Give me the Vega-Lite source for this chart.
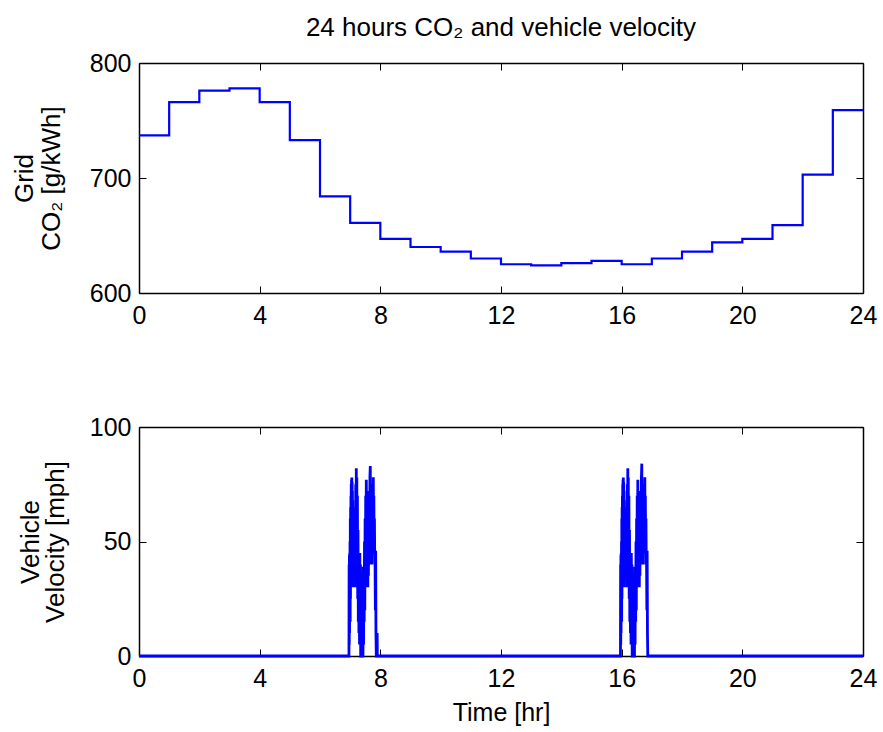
{
  "$schema": "https://vega.github.io/schema/vega-lite/v6.json",
  "background": "white",
  "padding": {"left": 11, "top": 15, "right": 5, "bottom": 5},
  "datasets": {
    "co2": [
      {"t": 0, "g": 737}, {"t": 1, "g": 766}, {"t": 2, "g": 776}, {"t": 3, "g": 778},
      {"t": 4, "g": 766}, {"t": 5, "g": 733}, {"t": 6, "g": 684}, {"t": 7, "g": 661},
      {"t": 8, "g": 647}, {"t": 9, "g": 640}, {"t": 10, "g": 636}, {"t": 11, "g": 630},
      {"t": 12, "g": 625}, {"t": 13, "g": 624}, {"t": 14, "g": 626}, {"t": 15, "g": 628},
      {"t": 16, "g": 625}, {"t": 17, "g": 630}, {"t": 18, "g": 636}, {"t": 19, "g": 644},
      {"t": 20, "g": 647}, {"t": 21, "g": 659}, {"t": 22, "g": 703}, {"t": 23, "g": 759},
      {"t": 24, "g": 759}
    ],
    "vel": [
      {"t": 0, "v": 0},
      {"t": 6.960, "v": 0}, {"t": 6.965, "v": 40}, {"t": 6.970, "v": 5}, {"t": 6.975, "v": 44}, {"t": 6.980, "v": 10}, {"t": 6.985, "v": 45}, {"t": 6.990, "v": 20}, {"t": 6.995, "v": 50}, {"t": 7.000, "v": 15}, {"t": 7.005, "v": 60}, {"t": 7.010, "v": 25}, {"t": 7.015, "v": 65}, {"t": 7.020, "v": 30}, {"t": 7.025, "v": 70}, {"t": 7.030, "v": 35}, {"t": 7.035, "v": 75}, {"t": 7.040, "v": 40}, {"t": 7.045, "v": 77}, {"t": 7.050, "v": 45}, {"t": 7.055, "v": 78}, {"t": 7.060, "v": 50}, {"t": 7.065, "v": 76}, {"t": 7.070, "v": 40}, {"t": 7.075, "v": 72}, {"t": 7.080, "v": 30}, {"t": 7.085, "v": 68}, {"t": 7.090, "v": 35}, {"t": 7.095, "v": 60}, {"t": 7.100, "v": 35}, {"t": 7.110, "v": 45}, {"t": 7.120, "v": 34}, {"t": 7.127, "v": 36}, {"t": 7.135, "v": 35}, {"t": 7.145, "v": 50}, {"t": 7.155, "v": 36}, {"t": 7.165, "v": 65}, {"t": 7.175, "v": 30}, {"t": 7.185, "v": 75}, {"t": 7.195, "v": 40}, {"t": 7.203, "v": 82}, {"t": 7.210, "v": 45}, {"t": 7.220, "v": 78}, {"t": 7.230, "v": 35}, {"t": 7.240, "v": 70}, {"t": 7.250, "v": 25}, {"t": 7.260, "v": 55}, {"t": 7.270, "v": 15}, {"t": 7.280, "v": 45}, {"t": 7.290, "v": 10}, {"t": 7.300, "v": 44}, {"t": 7.310, "v": 5}, {"t": 7.320, "v": 45}, {"t": 7.330, "v": 10}, {"t": 7.340, "v": 40}, {"t": 7.349, "v": 0},
      {"t": 7.425, "v": 0}, {"t": 7.435, "v": 39}, {"t": 7.445, "v": 5}, {"t": 7.455, "v": 39}, {"t": 7.465, "v": 15}, {"t": 7.475, "v": 50}, {"t": 7.485, "v": 20}, {"t": 7.495, "v": 60}, {"t": 7.505, "v": 30}, {"t": 7.515, "v": 70}, {"t": 7.525, "v": 40}, {"t": 7.535, "v": 77}, {"t": 7.545, "v": 45}, {"t": 7.555, "v": 72}, {"t": 7.565, "v": 35}, {"t": 7.575, "v": 65}, {"t": 7.585, "v": 30}, {"t": 7.595, "v": 55}, {"t": 7.605, "v": 35}, {"t": 7.615, "v": 65}, {"t": 7.625, "v": 40}, {"t": 7.635, "v": 72}, {"t": 7.645, "v": 50}, {"t": 7.655, "v": 78}, {"t": 7.667, "v": 83}, {"t": 7.675, "v": 55}, {"t": 7.685, "v": 75}, {"t": 7.695, "v": 45}, {"t": 7.705, "v": 70}, {"t": 7.715, "v": 40}, {"t": 7.724, "v": 60}, {"t": 7.735, "v": 45}, {"t": 7.745, "v": 70}, {"t": 7.755, "v": 50}, {"t": 7.767, "v": 78}, {"t": 7.775, "v": 55}, {"t": 7.785, "v": 70}, {"t": 7.795, "v": 45}, {"t": 7.805, "v": 60}, {"t": 7.815, "v": 40}, {"t": 7.823, "v": 46}, {"t": 7.835, "v": 20}, {"t": 7.845, "v": 46}, {"t": 7.855, "v": 10}, {"t": 7.866, "v": 0}, {"t": 7.890, "v": 0}, {"t": 7.895, "v": 10}, {"t": 7.900, "v": 0},
      {"t": 15.960, "v": 0}, {"t": 15.965, "v": 40}, {"t": 15.970, "v": 5}, {"t": 15.975, "v": 44}, {"t": 15.980, "v": 10}, {"t": 15.985, "v": 45}, {"t": 15.990, "v": 20}, {"t": 15.995, "v": 50}, {"t": 16.000, "v": 15}, {"t": 16.005, "v": 60}, {"t": 16.010, "v": 25}, {"t": 16.015, "v": 65}, {"t": 16.020, "v": 30}, {"t": 16.025, "v": 70}, {"t": 16.030, "v": 35}, {"t": 16.035, "v": 75}, {"t": 16.040, "v": 40}, {"t": 16.045, "v": 77}, {"t": 16.050, "v": 45}, {"t": 16.055, "v": 78}, {"t": 16.060, "v": 50}, {"t": 16.065, "v": 76}, {"t": 16.070, "v": 40}, {"t": 16.075, "v": 72}, {"t": 16.080, "v": 30}, {"t": 16.085, "v": 68}, {"t": 16.090, "v": 35}, {"t": 16.095, "v": 60}, {"t": 16.100, "v": 35}, {"t": 16.110, "v": 45}, {"t": 16.120, "v": 34}, {"t": 16.127, "v": 36}, {"t": 16.135, "v": 35}, {"t": 16.145, "v": 50}, {"t": 16.155, "v": 36}, {"t": 16.165, "v": 65}, {"t": 16.175, "v": 30}, {"t": 16.185, "v": 75}, {"t": 16.195, "v": 40}, {"t": 16.203, "v": 82}, {"t": 16.210, "v": 45}, {"t": 16.220, "v": 78}, {"t": 16.230, "v": 35}, {"t": 16.240, "v": 70}, {"t": 16.250, "v": 25}, {"t": 16.260, "v": 55}, {"t": 16.270, "v": 15}, {"t": 16.280, "v": 45}, {"t": 16.290, "v": 10}, {"t": 16.300, "v": 44}, {"t": 16.310, "v": 5}, {"t": 16.320, "v": 45}, {"t": 16.330, "v": 10}, {"t": 16.340, "v": 40}, {"t": 16.349, "v": 0},
      {"t": 16.425, "v": 0}, {"t": 16.435, "v": 39}, {"t": 16.445, "v": 5}, {"t": 16.455, "v": 39}, {"t": 16.465, "v": 15}, {"t": 16.475, "v": 50}, {"t": 16.485, "v": 20}, {"t": 16.495, "v": 60}, {"t": 16.505, "v": 30}, {"t": 16.515, "v": 70}, {"t": 16.525, "v": 40}, {"t": 16.535, "v": 77}, {"t": 16.545, "v": 45}, {"t": 16.555, "v": 72}, {"t": 16.565, "v": 35}, {"t": 16.575, "v": 65}, {"t": 16.585, "v": 30}, {"t": 16.595, "v": 55}, {"t": 16.605, "v": 35}, {"t": 16.615, "v": 65}, {"t": 16.625, "v": 40}, {"t": 16.635, "v": 72}, {"t": 16.645, "v": 50}, {"t": 16.655, "v": 78}, {"t": 16.667, "v": 84}, {"t": 16.675, "v": 55}, {"t": 16.685, "v": 75}, {"t": 16.695, "v": 45}, {"t": 16.705, "v": 70}, {"t": 16.715, "v": 40}, {"t": 16.724, "v": 60}, {"t": 16.735, "v": 45}, {"t": 16.745, "v": 70}, {"t": 16.755, "v": 50}, {"t": 16.767, "v": 78}, {"t": 16.775, "v": 55}, {"t": 16.785, "v": 70}, {"t": 16.795, "v": 45}, {"t": 16.805, "v": 60}, {"t": 16.815, "v": 40}, {"t": 16.823, "v": 46}, {"t": 16.835, "v": 20}, {"t": 16.845, "v": 46}, {"t": 16.855, "v": 10}, {"t": 16.866, "v": 0},
      {"t": 24, "v": 0}
    ]
  },
  "vconcat": [
    {
      "title": {"text": "24 hours CO₂ and vehicle velocity", "font": "Liberation Sans", "fontSize": 26, "fontWeight": "normal", "color": "black", "anchor": "middle", "frame": "group", "offset": 10},
      "width": 724, "height": 230,
      "data": {"name": "co2"},
      "layer": [
        {
          "mark": {"type": "line", "interpolate": "step-after", "color": "#0000ff", "strokeWidth": 2.2},
          "encoding": {
            "x": {"field": "t", "type": "quantitative", "scale": {"domain": [0, 24], "nice": false},
                  "axis": {"orient": "bottom", "values": [0, 4, 8, 12, 16, 20, 24], "title": null}},
            "y": {"field": "g", "type": "quantitative", "scale": {"domain": [600, 800], "nice": false, "zero": false},
                  "axis": {"orient": "left", "values": [600, 700, 800], "title": ["Grid", "CO₂ [g/kWh]"], "titlePadding": 25, "titleLineHeight": 27}}
          }
        },
        {
          "mark": {"type": "line", "opacity": 0},
          "encoding": {
            "x": {"field": "t", "type": "quantitative", "scale": {"domain": [0, 24], "nice": false},
                  "axis": {"orient": "top", "values": [0, 4, 8, 12, 16, 20, 24], "labels": false, "title": null}},
            "y": {"field": "g", "type": "quantitative", "scale": {"domain": [600, 800], "nice": false, "zero": false},
                  "axis": {"orient": "right", "values": [600, 700, 800], "labels": false, "title": null}}
          }
        }
      ],
      "resolve": {"axis": {"x": "independent", "y": "independent"}}
    },
    {
      "width": 724, "height": 229,
      "data": {"name": "vel"},
      "layer": [
        {
          "mark": {"type": "line", "color": "#0000ff", "strokeWidth": 2.8},
          "encoding": {
            "x": {"field": "t", "type": "quantitative", "scale": {"domain": [0, 24], "nice": false},
                  "axis": {"orient": "bottom", "values": [0, 4, 8, 12, 16, 20, 24], "title": "Time [hr]", "titleFontSize": 25, "titlePadding": 9}},
            "y": {"field": "v", "type": "quantitative", "scale": {"domain": [0, 100], "nice": false},
                  "axis": {"orient": "left", "values": [0, 50, 100], "title": ["Vehicle", "Velocity [mph]"], "titlePadding": 21, "titleLineHeight": 25}}
          }
        },
        {
          "mark": {"type": "line", "opacity": 0},
          "encoding": {
            "x": {"field": "t", "type": "quantitative", "scale": {"domain": [0, 24], "nice": false},
                  "axis": {"orient": "top", "values": [0, 4, 8, 12, 16, 20, 24], "labels": false, "title": null}},
            "y": {"field": "v", "type": "quantitative", "scale": {"domain": [0, 100], "nice": false},
                  "axis": {"orient": "right", "values": [0, 50, 100], "labels": false, "title": null}}
          }
        }
      ],
      "resolve": {"axis": {"x": "independent", "y": "independent"}}
    }
  ],
  "spacing": 134,
  "bounds": "flush",
  "config": {
    "view": {"stroke": null},
    "axis": {
      "grid": false,
      "domainColor": "black", "domainWidth": 1.5,
      "tickColor": "black", "tickWidth": 1, "tickSize": -7,
      "labelFont": "Liberation Sans", "labelFontSize": 25, "labelColor": "black", "labelPadding": 17,
      "titleFont": "Liberation Sans", "titleFontSize": 26, "titleFontWeight": "normal", "titleColor": "black",
      "labelFlush": false, "labelOverlap": false
    },
    "axisY": {"labelPadding": 15}
  }
}
